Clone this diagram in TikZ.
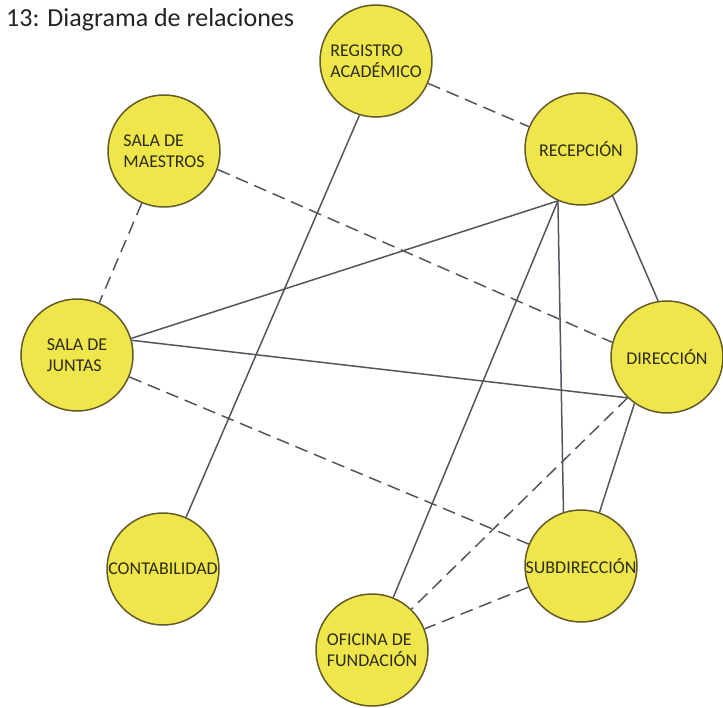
\documentclass[tikz,border=0pt]{standalone}
\usepackage{fontspec}
\setmainfont{Carlito}
\definecolor{nodefill}{RGB}{239,230,76}
\definecolor{nodeborder}{RGB}{100,90,40}
\definecolor{edgecol}{RGB}{85,85,95}
\definecolor{textcol}{RGB}{45,45,25}
\definecolor{titlecol}{RGB}{35,35,35}
\begin{document}
\begin{tikzpicture}[x=1pt,y=-1pt,
  place/.style={circle, draw=nodeborder, line width=1.5pt, fill=nodefill,
    minimum size=112pt, inner sep=0pt, align=left, text=textcol,
    font=\fontsize{18}{21}\selectfont},
  rel/.style={draw=edgecol, line width=1.5pt},
  weak/.style={rel, dash pattern=on 13pt off 7pt}]
\useasboundingbox (0,0) rectangle (723,707);
\node[anchor=base west, font=\fontsize{26}{30}\selectfont, text=titlecol, inner sep=0pt] (title) at (6,26) {13: Diagrama de relaciones};

\node[place] (reg) at (376,61) {REGISTRO\\ACADÉMICO};
\node[place] (rec) at (581,149) {RECEPCIÓN};
\node[place] (mae) at (164,151) {SALA DE\\MAESTROS};
\node[place] (jun) at (77,355) {SALA DE\\JUNTAS};
\node[place] (dir) at (667,357) {DIRECCIÓN};
\node[place] (con) at (163,569) {CONTABILIDAD};
\node[place] (sub) at (581,566) {SUBDIRECCIÓN};
\node[place] (ofi) at (372,650) {OFICINA DE\\FUNDACIÓN};

\draw[weak] (reg) -- (rec);
\draw[rel] (reg.-107) -- (con.66);
\draw[weak] (mae) -- (jun);
\draw[weak] (mae.-19) -- (dir.165);
\draw[rel] (rec.-114) -- (jun.17);
\draw[rel] (jun.15) -- (dir.-134);
\draw[weak] (jun) -- (sub);
\draw[rel] (rec.-114) -- (ofi.68);
\draw[rel] (rec.-114) -- (sub.108);
\draw[rel] (rec.-56) -- (dir.99);
\draw[rel] (dir.-125) -- (sub.71);
\draw[weak] (dir.-134) -- (ofi.46);
\draw[weak] (sub) -- (ofi);
\end{tikzpicture}
\end{document}
